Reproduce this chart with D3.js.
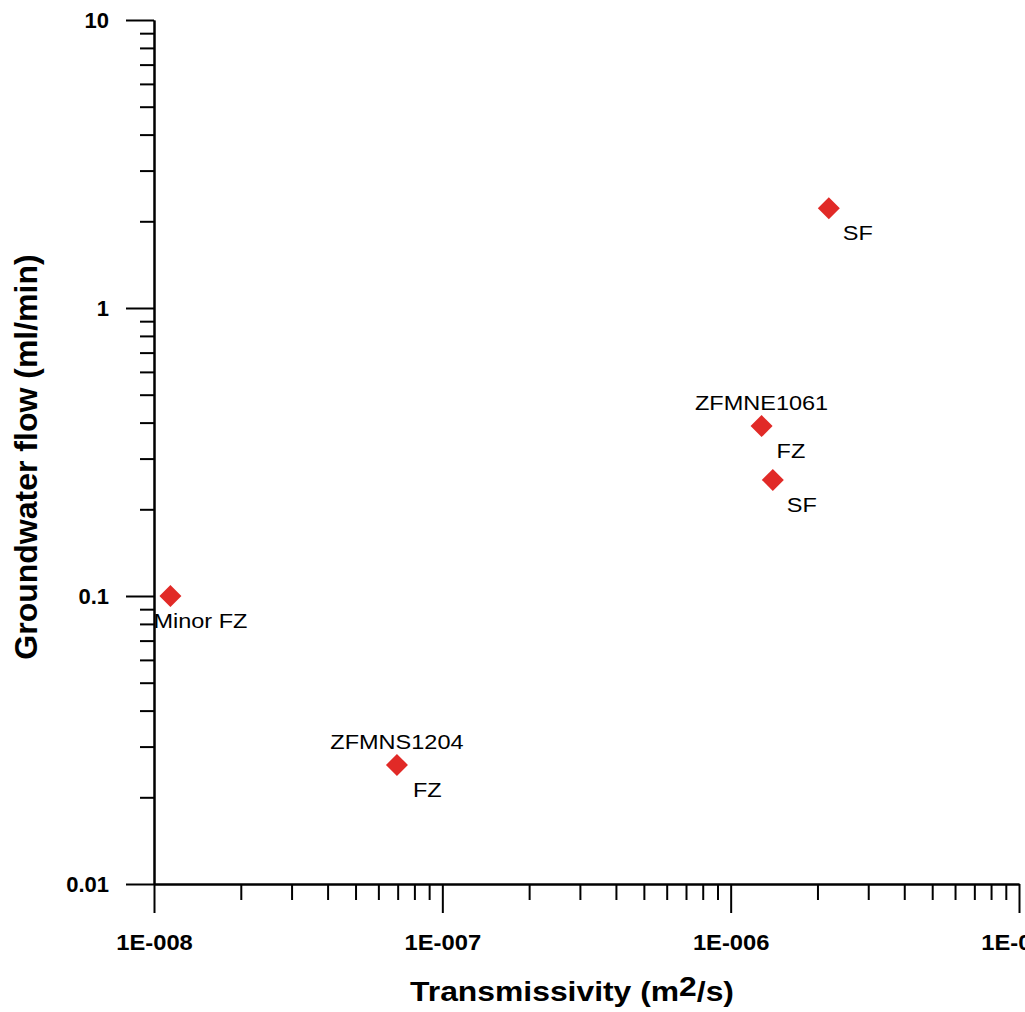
<!DOCTYPE html>
<html>
<head>
<meta charset="utf-8">
<script src="https://cdn.jsdelivr.net/npm/d3@7"></script>
<style>
  body { margin: 0; background: #fff; }
  svg { display: block; font-family: "Liberation Sans", Arial, sans-serif; }
</style>
</head>
<body>
<svg id="chart" width="1025" height="1012"></svg>
<script>
// data
const transmissivity = [2.19e-6, 1.28e-6, 1.40e-6, 1.14e-8, 6.96e-8];
const flow = [2.22, 0.389, 0.253, 0.1, 0.0259];
const topLabels = ["", "ZFMNE1061", "", "", "ZFMNS1204"];
const bottomLabels = ["SF", "FZ", "SF", "Minor FZ", "FZ"];
const bottomDx = [14, 15, 14, -17, 16];

const xMajor = [1e-8, 1e-7, 1e-6, 1e-5];
const xMajorText = ["1E-008", "1E-007", "1E-006", "1E-005"];
const yMajor = [0.01, 0.1, 1, 10];
const yMajorText = ["0.01", "0.1", "1", "10"];

const svg = d3.select('#chart');
const plotLeft = 154, plotRight = 1019, plotTop = 20, plotBottom = 884;

const x = d3.scaleLog().domain([1e-8, 1e-5]).range([plotLeft, plotRight]);
const y = d3.scaleLog().domain([0.01, 10]).range([plotBottom, plotTop]);

function minorTicks(lo, hi) {
    const out = [];
    for (let d = lo; d < hi; d *= 10) {
        for (let m = 2; m <= 9; m++) out.push(d * m);
    }
    return out;
}

// minor ticks first, no labels
svg.append('g')
    .attr('transform', `translate(0,${plotBottom})`)
    .call(d3.axisBottom(x).tickValues(minorTicks(1e-8, 1e-5)).tickSize(16).tickSizeOuter(0).tickFormat(''));
svg.append('g')
    .attr('transform', `translate(${plotLeft},0)`)
    .call(d3.axisLeft(y).tickValues(minorTicks(0.01, 10)).tickSize(14).tickSizeOuter(0).tickFormat(''));

// major ticks
const xAxis = svg.append('g')
    .attr('transform', `translate(0,${plotBottom})`)
    .call(d3.axisBottom(x).tickValues(xMajor).tickSize(29).tickSizeOuter(0).tickPadding(21)
        .tickFormat((d, i) => xMajorText[i]));
const yAxis = svg.append('g')
    .attr('transform', `translate(${plotLeft},0)`)
    .call(d3.axisLeft(y).tickValues(yMajor).tickSize(28).tickSizeOuter(0).tickPadding(17)
        .tickFormat((d, i) => yMajorText[i]));

svg.selectAll('.domain, .tick line').attr('stroke', '#000').attr('stroke-width', 2);
[xAxis, yAxis].forEach(a => a.selectAll('text')
    .attr('font-family', '"Liberation Sans", Arial, sans-serif')
    .attr('font-size', 22).attr('font-weight', 'bold').attr('fill', '#000'));
// the horizontal labels are a little wider in the original
xAxis.selectAll('text').attr('transform', 'scale(1.08,1)');

// axis titles
const xt = svg.append('text')
    .attr('transform', 'translate(572,1001) scale(1.18,1)')
    .attr('text-anchor', 'middle')
    .attr('font-size', 27).attr('font-weight', 'bold');
xt.append('tspan').text('Transmissivity (m');
xt.append('tspan').attr('dy', -5).text('2');
xt.append('tspan').attr('dy', 5).text('/s)');

svg.append('text')
    .attr('transform', `translate(37,${(plotTop + plotBottom) / 2 + 5}) rotate(-90)`)
    .attr('text-anchor', 'middle')
    .attr('font-size', 32).attr('font-weight', 'bold')
    .text('Groundwater flow (ml/min)');

// points
const pts = svg.append('g');
const diamond = d3.symbol().type(d3.symbolSquare).size(242);
transmissivity.forEach((t, i) => {
    const px = x(t), py = y(flow[i]);
    pts.append('path')
        .attr('d', diamond())
        .attr('transform', `translate(${px},${py}) rotate(45)`)
        .attr('fill', '#e12a27');
    if (topLabels[i]) {
        pts.append('text')
            .attr('transform', `translate(${px},${py - 16}) scale(1.12,1)`)
            .attr('text-anchor', 'middle')
            .attr('font-size', 21)
            .text(topLabels[i]);
    }
    pts.append('text')
        .attr('transform', `translate(${px + bottomDx[i]},${py + 32}) scale(1.12,1)`)
        .attr('font-size', 21)
        .text(bottomLabels[i]);
});
</script>
</body>
</html>
